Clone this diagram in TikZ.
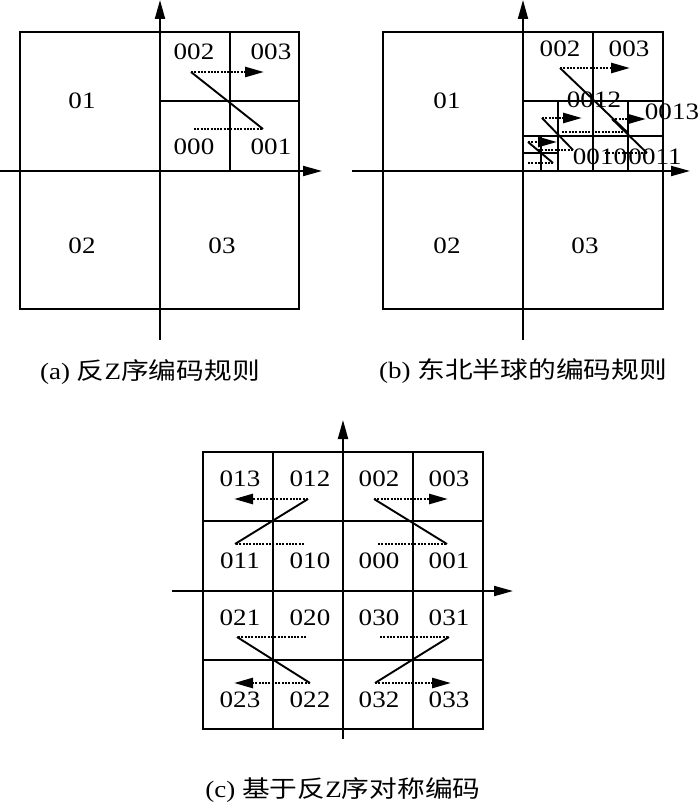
\documentclass[tikz,border=0pt]{standalone}
\usepackage{fontspec}
\setmainfont{Liberation Serif}[FakeStretch=1.15]
\newfontfamily\zhfont{Noto Sans CJK SC}[FakeStretch=1.18]
\newcommand{\zh}[1]{{\zhfont #1}}
\usetikzlibrary{arrows.meta}

\begin{document}
\begin{tikzpicture}[
    x=1pt, y=-1pt,
    >={Triangle[length=19pt, width=10pt]},
    frame/.style={line width=2pt},
    axis/.style={line width=2pt, ->},
    trail/.style={line width=2.6pt, dash pattern=on 2pt off 1.3pt},
    slant/.style={line width=1.9pt},
    code/.style={font=\fontsize{23.5}{27}\selectfont, inner sep=0pt},
    subcap/.style={font=\fontsize{23.5}{27}\selectfont, inner sep=0pt},
]
\useasboundingbox (0,0) rectangle (700,810);

% ---- (a) inverse Z order ----
\draw[frame] (20,32) rectangle (299,309);
\draw[frame] (160,101) -- (299,101);
\draw[frame] (229.5,32) -- (229.5,171);
\coordinate (axW) at (0,171);   \coordinate (axE) at (322,171);
\coordinate (ayS) at (160,340); \coordinate (ayN) at (160,0);
\draw[axis] (axW) -- (axE);
\draw[axis] (ayS) -- (ayN);

\node[code] (a01) at (82,101) {01};
\node[code] (a02) at (82,246) {02};
\node[code] (a03) at (222,246) {03};
\node[code] (a002) at (194,52) {002};
\node[code] (a003) at (271,52) {003};
\node[code] (a000) at (194,147) {000};
\node[code] (a001) at (271,147) {001};

\coordinate (za0) at (194,129); \coordinate (za1) at (263,129);
\coordinate (za2) at (191,72);  \coordinate (za3) at (264,72);
\draw[trail] (za0) -- (za1);
\draw[slant] (za1) -- (za2);
\draw[trail, ->] (za2) -- (za3);

\node[subcap] (capA) at (150,372) {(a) \zh{反}Z\zh{序编码规则}};

% ---- (b) north-east hemisphere ----
\draw[frame] (383,32) rectangle (663,309);
\draw[frame] (593,32) -- (593,171);
\draw[frame] (523,101) -- (663,101);
\draw[frame] (523,136) -- (663,136);
\draw[frame] (558,101) -- (558,171);
\draw[frame] (628,101) -- (628,171);
\draw[frame] (540.5,136) -- (540.5,171);
\draw[frame] (523,153.5) -- (558,153.5);
\coordinate (bxW) at (352,171); \coordinate (bxE) at (690,171);
\coordinate (byS) at (523,340); \coordinate (byN) at (523,0);
\draw[axis] (bxW) -- (bxE);
\draw[axis] (byS) -- (byN);

\node[code] (b01) at (447,101) {01};
\node[code] (b02) at (447,246) {02};
\node[code] (b03) at (585,246) {03};
\node[code] (b002) at (560,49) {002};
\node[code] (b003) at (629,49) {003};
\node[code] (b0012) at (594,100) {0012};
\node[code] (b0013) at (672,112) {0013};
\node[code] (b0010) at (600,157) {0010};
\node[code] (b0011) at (655,157) {0011};

% level 1
\coordinate (zb0) at (562,132); \coordinate (zb1) at (627,132);
\coordinate (zb2) at (560,68);  \coordinate (zb3) at (630,68);
\draw[trail] (zb0) -- (zb1);
\draw[slant] (zb1) -- (zb2);
\draw[trail, ->] (zb2) -- (zb3);
% level 2 in 000
\coordinate (zc0) at (538,150); \coordinate (zc1) at (573,150);
\coordinate (zc2) at (542,118); \coordinate (zc3) at (582,118);
\draw[trail] (zc0) -- (zc1);
\draw[slant] (zc1) -- (zc2);
\draw[trail, ->] (zc2) -- (zc3);
% level 3 in 0000
\coordinate (zd0) at (528,163); \coordinate (zd1) at (553,163);
\coordinate (zd2) at (528,142); \coordinate (zd3) at (557,142);
\draw[trail] (zd0) -- (zd1);
\draw[slant] (zd1) -- (zd2);
\draw[trail, ->] (zd2) -- (zd3);
% level 2 in 001
\coordinate (ze0) at (605,153); \coordinate (ze1) at (647,153);
\coordinate (ze2) at (612,119); \coordinate (ze3) at (646,119);
\draw[trail] (ze0) -- (ze1);
\draw[slant] (ze1) -- (ze2);
\draw[trail, ->] (ze2) -- (ze3);

\node[subcap] (capB) at (523,371) {(b) \zh{东北半球的编码规则}};

% ---- (c) symmetric coding ----
\draw[frame] (203,452) rectangle (483,729);
\draw[frame] (273,452) -- (273,729);
\draw[frame] (413,452) -- (413,729);
\draw[frame] (203,521) -- (483,521);
\draw[frame] (203,660) -- (483,660);
\coordinate (cxW) at (172,591); \coordinate (cxE) at (513,591);
\coordinate (cyS) at (343,739); \coordinate (cyN) at (343,420);
\draw[axis] (cxW) -- (cxE);
\draw[axis] (cyS) -- (cyN);

\node[code] (c013) at (240,479) {013};
\node[code] (c012) at (310,479) {012};
\node[code] (c002) at (379,479) {002};
\node[code] (c003) at (449,479) {003};
\node[code] (c011) at (240,561) {011};
\node[code] (c010) at (310,561) {010};
\node[code] (c000) at (379,561) {000};
\node[code] (c001) at (449,561) {001};
\node[code] (c021) at (240,618) {021};
\node[code] (c020) at (310,618) {020};
\node[code] (c030) at (379,618) {030};
\node[code] (c031) at (449,618) {031};
\node[code] (c023) at (240,700) {023};
\node[code] (c022) at (310,700) {022};
\node[code] (c032) at (379,700) {032};
\node[code] (c033) at (449,700) {033};

% quadrant 0
\coordinate (zp0) at (378,544); \coordinate (zp1) at (447,544);
\coordinate (zp2) at (374,499); \coordinate (zp3) at (448,499);
\draw[trail] (zp0) -- (zp1);
\draw[slant] (zp1) -- (zp2);
\draw[trail, ->] (zp2) -- (zp3);
% quadrant 1
\coordinate (zq0) at (304,544); \coordinate (zq1) at (235,544);
\coordinate (zq2) at (308,499); \coordinate (zq3) at (234,499);
\draw[trail] (zq0) -- (zq1);
\draw[slant] (zq1) -- (zq2);
\draw[trail, ->] (zq2) -- (zq3);
% quadrant 2
\coordinate (zr0) at (306,637); \coordinate (zr1) at (237,637);
\coordinate (zr2) at (310,683); \coordinate (zr3) at (234,683);
\draw[trail] (zr0) -- (zr1);
\draw[slant] (zr1) -- (zr2);
\draw[trail, ->] (zr2) -- (zr3);
% quadrant 3
\coordinate (zs0) at (380,637); \coordinate (zs1) at (449,637);
\coordinate (zs2) at (375,683); \coordinate (zs3) at (451,683);
\draw[trail] (zs0) -- (zs1);
\draw[slant] (zs1) -- (zs2);
\draw[trail, ->] (zs2) -- (zs3);

\node[subcap] (capC) at (343,790) {(c) \zh{基于反}Z\zh{序对称编码}};

\end{tikzpicture}
\end{document}
